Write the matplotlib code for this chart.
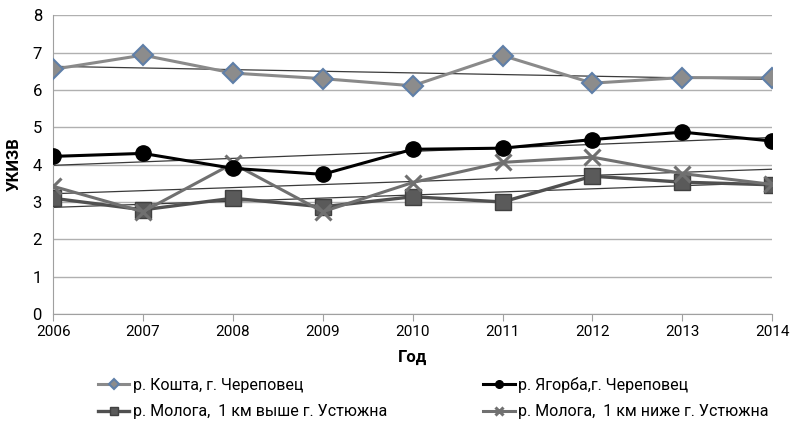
import matplotlib.pyplot as plt
import numpy as np

years = [2006, 2007, 2008, 2009, 2010, 2011, 2012, 2013, 2014]
koshta = [6.55, 6.93, 6.45, 6.30, 6.11, 6.92, 6.18, 6.33, 6.32]
yagorba = [4.22, 4.30, 3.90, 3.74, 4.41, 4.44, 4.67, 4.87, 4.63]
mologa_up = [3.10, 2.79, 3.10, 2.87, 3.14, 3.00, 3.69, 3.53, 3.46]
mologa_down = [3.42, 2.74, 4.03, 2.74, 3.52, 4.06, 4.20, 3.76, 3.47]

names = ['р. Кошта, г. Череповец', 'р. Ягорба,г. Череповец',
         'р. Молога,  1 км выше г. Устюжна', 'р. Молога,  1 км ниже г. Устюжна']

plt.rcParams['font.family'] = ['Roboto', 'DejaVu Sans']

fig = plt.figure(figsize=(7.92, 4.21), dpi=100)
ax = fig.add_axes([0.067, 0.254, 0.908, 0.71])

x = np.array(years)
h1, = ax.plot(x, koshta, color='#8a8a8a', lw=2.2, marker='D', ms=10,
              mfc='#8c8c8c', mec='#5f7fa8', mew=1.5, zorder=3)
h2, = ax.plot(x, yagorba, color='black', lw=2.2, marker='o', ms=11,
              mfc='black', mec='black', zorder=4)
h3, = ax.plot(x, mologa_up, color='#505050', lw=2.4, marker='s', ms=11,
              mfc='#5a5a5a', mec='#404040', zorder=3)
h4, = ax.plot(x, mologa_down, color='#707070', lw=2.2, marker='x', ms=12,
              mew=2.2, zorder=3)

# линии тренда
for s in [koshta, yagorba, mologa_up, mologa_down]:
    k, b = np.polyfit(x, s, 1)
    ax.plot(x, k * x + b, color='#3a3a3a', lw=0.9, zorder=2)

ax.set_xlim(2006, 2014)
ax.set_ylim(0, 8)
ax.set_xticks(years)
ax.set_yticks(range(0, 9))
ax.grid(axis='y', color='#b0b0b0', lw=1)
ax.set_axisbelow(True)
for sp in ['top', 'right']:
    ax.spines[sp].set_visible(False)
ax.spines['left'].set_color('#a0a0a0')
ax.spines['bottom'].set_color('#a0a0a0')
ax.tick_params(axis='x', direction='out', length=5, color='#a0a0a0',
               labelsize=11, pad=3)
ax.tick_params(axis='y', length=0, labelsize=12, pad=8)
ax.set_xlabel('Год', fontsize=12, fontweight='bold', labelpad=8)
ax.set_ylabel('УКИЗВ', fontsize=12, fontweight='bold', labelpad=8)

# порядок по строкам: matplotlib заполняет столбцами
leg = fig.legend([h1, h3, h2, h4], [names[0], names[2], names[1], names[3]],
                 ncol=2, loc='lower left',
                 bbox_to_anchor=(0.105, -0.03), frameon=False, fontsize=11.5,
                 markerscale=0.5, handlelength=2.0, columnspacing=6.0,
                 labelspacing=0.7, handletextpad=0.2)

fig.savefig('out.png', dpi=100)
